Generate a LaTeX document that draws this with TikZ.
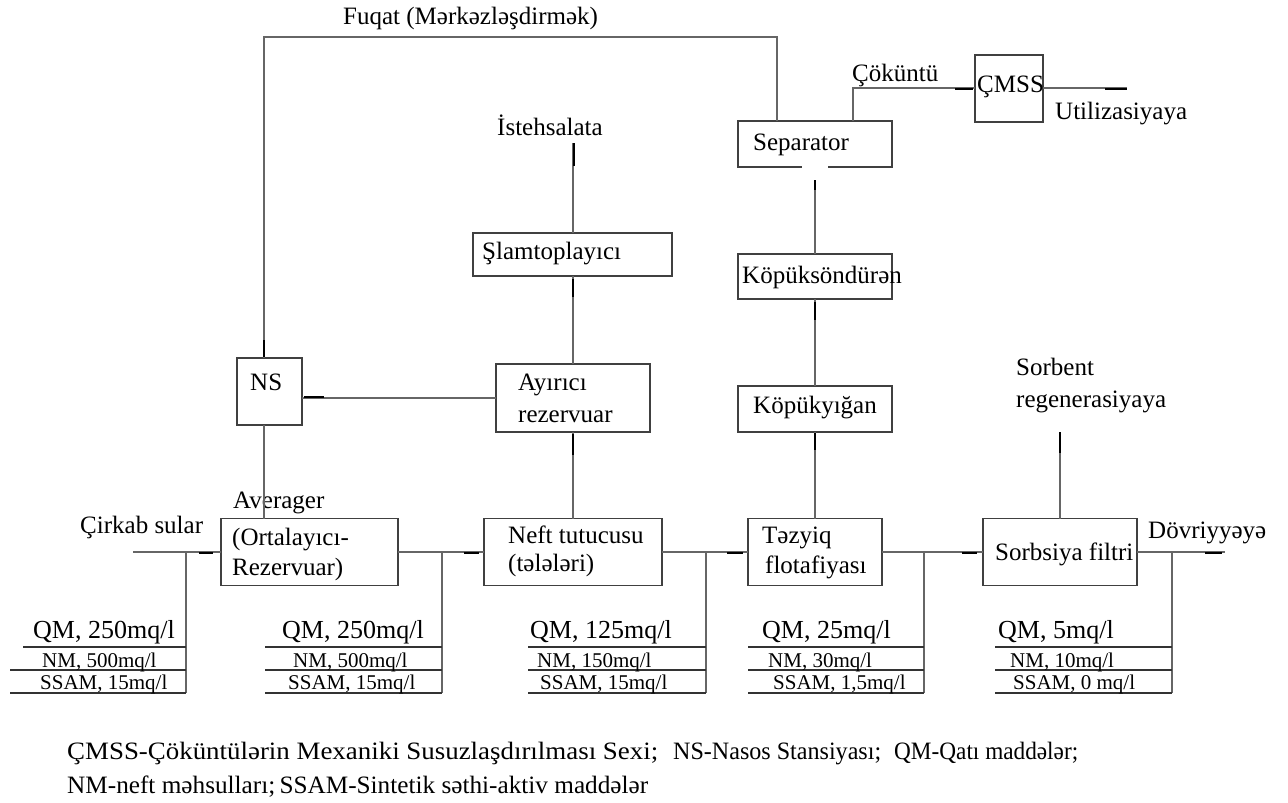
\documentclass[tikz,border=0pt]{standalone}
\usepackage{fontspec}
\usepackage{graphicx}
\setmainfont{Liberation Serif}
\begin{document}
\begin{tikzpicture}[x=1pt,y=-1pt,
  box/.style={draw=black!75, line width=1.2pt, rectangle, inner sep=0pt, outer sep=0pt},
  conn/.style={draw=black!60, line width=1.2pt},
  tickmark/.style={draw=black, line width=2.6pt},
  tline/.style={draw=black!80, line width=1.2pt},
  lbl/.style={font=\fontsize{25}{30}\selectfont, inner sep=0pt, anchor=base west},
  qm/.style={font=\fontsize{26}{30}\selectfont, inner sep=0pt, anchor=base west},
  nm/.style={font=\fontsize{21}{25}\selectfont, inner sep=0pt, anchor=base west},
  leg/.style={font=\fontsize{25}{30}\selectfont, inner sep=0pt, anchor=base west},
]
\useasboundingbox[fill=white] (0,0) rectangle (1288,803);

% ---------- boxes ----------
\node[box, minimum width=65pt,  minimum height=67pt] (ns)   at (269.5,391.5) {};
\node[box, minimum width=177pt, minimum height=67pt] (avg)  at (309.5,552) {};
\node[box, minimum width=178pt, minimum height=67pt] (neft) at (573,552) {};
\node[box, minimum width=134pt, minimum height=67pt] (tez)  at (815,552) {};
\node[box, minimum width=154pt, minimum height=67pt] (sorb) at (1060,552) {};
\node[box, minimum width=154pt, minimum height=68pt] (ayr)  at (573,398) {};
\node[box, minimum width=199pt, minimum height=43pt] (slam) at (572.5,254.5) {};
\node[box, minimum width=154pt, minimum height=46pt] (kopy) at (815,409) {};
\node[box, minimum width=154pt, minimum height=45pt] (kops) at (815,276.5) {};
\node[box, minimum width=154pt, minimum height=46pt] (sep)  at (815,144) {};
\node[box, minimum width=68pt,  minimum height=67pt] (cmss) at (1009,88.5) {};
\draw[white, line width=2pt] (802,167) -- (828,167);

% ---------- texts in boxes ----------
\node[lbl] (tns)   at (250,390) {NS};
\node[lbl] (tav1)  at (233,508) {Averager};
\node[lbl] (tav2)  at (232,545) {(Ortalayıcı-};
\node[lbl] (tav3)  at (232,575) {Rezervuar)};
\node[lbl] (tne1)  at (508,543) {Neft tutucusu};
\node[lbl] (tne2)  at (508,571) {(tələləri)};
\node[lbl] (tte1)  at (762,543) {Təzyiq};
\node[lbl] (tte2)  at (765,573) {flotafiyası};
\node[lbl] (tso)   at (995,560) {Sorbsiya filtri};
\node[lbl] (tay1)  at (518,390) {Ayırıcı};
\node[lbl] (tay2)  at (518,422) {rezervuar};
\node[lbl] (tsl)   at (482,259) {Şlamtoplayıcı};
\node[lbl] (tky)   at (753,413) {Köpükyığan};
\node[lbl] (tks)   at (742,283) {Köpüksöndürən};
\node[lbl] (tse)   at (753,150) {Separator};
\node[lbl] (tcm)   at (977,92) {ÇMSS};

% ---------- free labels ----------
\node[lbl] (tfu)  at (343,24)  {Fuqat (Mərkəzləşdirmək)};
\node[lbl] (tis)  at (497,135) {İstehsalata};
\node[lbl] (tco)  at (852,81)  {Çöküntü};
\node[lbl] (tut)  at (1055,119) {Utilizasiyaya};
\node[lbl] (tsb1) at (1016,375) {Sorbent};
\node[lbl] (tsb2) at (1016,407) {regenerasiyaya};
\node[lbl] (tci)  at (80,533)  {Çirkab sular};
\node[lbl] (tdo)  at (1148,538) {Dövriyyəyə};

% ---------- coordinates ----------
\coordinate (tl)  at (264,37);
\coordinate (tr)  at (777,37);
\coordinate (in)  at (133,552);
\coordinate (out) at (1225,552);
\coordinate (ist) at (573,143);
\coordinate (reg) at (1060,432);
\coordinate (sepin) at (815,180);
\coordinate (cmk) at (853,88);
\coordinate (util) at (1127,88);

% ---------- connectors ----------
\draw[conn] (ns.north -| tl) -- (tl) -- (tr) -- (sep.north -| tr);
\draw[conn] (ns.south -| tl) -- (avg.north -| tl);
\draw[conn] (ayr.west) -- (ns.east |- ayr.west);
\draw[conn] (in) -- (avg.west);
\draw[conn] (avg.east) -- (neft.west);
\draw[conn] (neft.east) -- (tez.west);
\draw[conn] (tez.east) -- (sorb.west);
\draw[conn] (sorb.east) -- (out);
\draw[conn] (neft.north) -- (ayr.south);
\draw[conn] (ayr.north) -- (slam.south -| ayr.north);
\draw[conn] (slam.north -| ayr.north) -- (ist);
\draw[conn] (tez.north) -- (kopy.south);
\draw[conn] (kopy.north) -- (kops.south);
\draw[conn] (kops.north) -- (sepin);
\draw[conn] (sep.north -| cmk) -- (cmk) -- (cmss.west |- cmk);
\draw[conn] (cmss.east |- util) -- (util);
\draw[conn] (sorb.north) -- (reg);

% ---------- tick marks ----------
\draw[tickmark] (264,340) -- (264,357);
\draw[tickmark] (304,397) -- (324,397);
\draw[tickmark] (573,434) -- (573,455);
\draw[tickmark] (573,279) -- (573,297);
\draw[tickmark] (574,143) -- (574,166);
\draw[tickmark] (815,433) -- (815,450);
\draw[tickmark] (815,302) -- (815,320);
\draw[tickmark] (815,180) -- (815,190);
\draw[tickmark] (955,89) -- (973,89);
\draw[tickmark] (1105,89) -- (1127,89);
\draw[tickmark] (1060,432) -- (1060,453);
\draw[tickmark] (199,553) -- (213,553);
\draw[tickmark] (464,553) -- (479,553);
\draw[tickmark] (727,553) -- (743,553);
\draw[tickmark] (962,553) -- (977,553);
\draw[tickmark] (1205,553) -- (1222,553);

% ---------- tables ----------
% table 1
\draw[conn] (186,552) -- (186,693);
\draw[tline] (23,647) -- (186,647);
\draw[tline] (10,670) -- (186,670);
\draw[tline] (10,693) -- (186,693);
\node[qm] (q1) at (33,638) {QM, 250mq/l};
\node[nm] (n1) at (42,667) {NM, 500mq/l};
\node[nm] (s1) at (40,689) {SSAM, 15mq/l};
% table 2
\draw[conn] (442,552) -- (442,693);
\draw[tline] (265,647) -- (442,647);
\draw[tline] (265,670) -- (442,670);
\draw[tline] (265,693) -- (442,693);
\node[qm] (q2) at (282,638) {QM, 250mq/l};
\node[nm] (n2) at (293,667) {NM, 500mq/l};
\node[nm] (s2) at (288,689) {SSAM, 15mq/l};
% table 3
\draw[conn] (706,552) -- (706,693);
\draw[tline] (528,647) -- (706,647);
\draw[tline] (528,670) -- (706,670);
\draw[tline] (528,693) -- (706,693);
\node[qm] (q3) at (530,638) {QM, 125mq/l};
\node[nm] (n3) at (537,667) {NM, 150mq/l};
\node[nm] (s3) at (540,689) {SSAM, 15mq/l};
% table 4
\draw[conn] (924,552) -- (924,693);
\draw[tline] (748,647) -- (924,647);
\draw[tline] (748,670) -- (924,670);
\draw[tline] (748,693) -- (924,693);
\node[qm] (q4) at (762,638) {QM, 25mq/l};
\node[nm] (n4) at (768,667) {NM, 30mq/l};
\node[nm] (s4) at (773,689) {SSAM, 1,5mq/l};
% table 5
\draw[conn] (1172,552) -- (1172,693);
\draw[tline] (995,647) -- (1172,647);
\draw[tline] (995,670) -- (1172,670);
\draw[tline] (995,693) -- (1172,693);
\node[qm] (q5) at (998,638) {QM, 5mq/l};
\node[nm] (n5) at (1010,667) {NM, 10mq/l};
\node[nm] (s5) at (1013,689) {SSAM, 0 mq/l};

% ---------- legend ----------
\node[leg] (l1) at (67,759)  {\resizebox{591pt}{\height}{ÇMSS-Çöküntülərin Mexaniki Susuzlaşdırılması Sexi;}};
\node[leg] (l2) at (673,759) {\resizebox{208pt}{\height}{NS-Nasos Stansiyası;}};
\node[leg] (l3) at (894,759) {\resizebox{184pt}{\height}{QM-Qatı maddələr;}};
\node[leg] (l4) at (67,793)  {\resizebox{581pt}{\height}{NM-neft məhsulları;\,SSAM-Sintetik səthi-aktiv maddələr}};
\end{tikzpicture}
\end{document}
